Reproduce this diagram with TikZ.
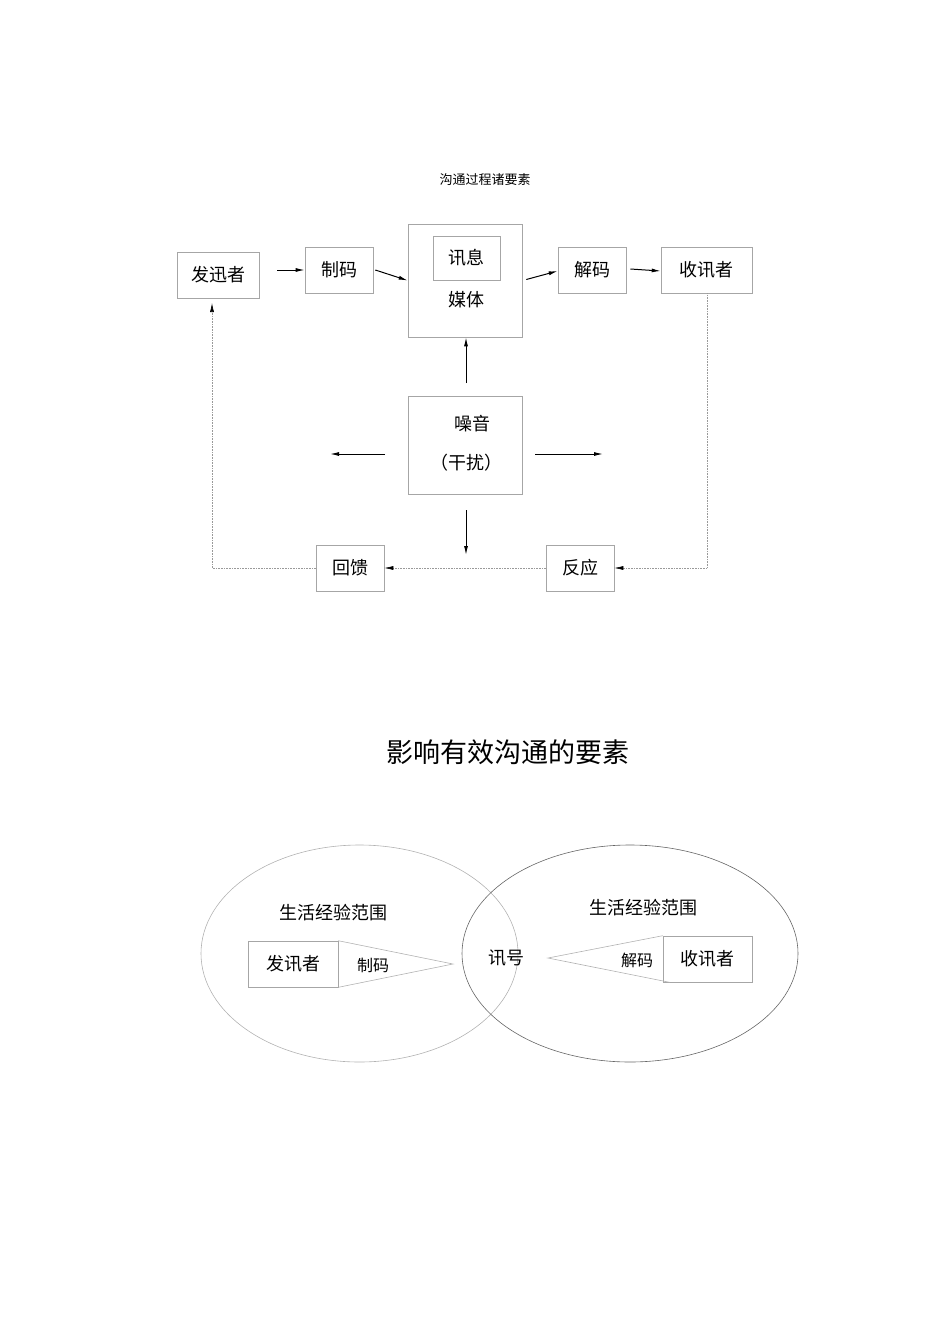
\documentclass[tikz,border=0pt]{standalone}
\usepackage{fontspec}
\newfontfamily\cjk{Noto Sans CJK SC}
\usetikzlibrary{arrows.meta}
\begin{document}
\begin{tikzpicture}[x=1pt,y=-1pt,
  bx/.style={draw=black!35,line width=0.6pt,minimum width=#1,minimum height=46pt,inner sep=0pt,font=\cjk\fontsize{18}{20}\selectfont},
  bx/.default=68pt,
  arr/.style={-{Latex[length=9pt,width=4pt]},line width=1pt},
  dot/.style={densely dotted,draw=black!40,line width=0.6pt,-{Latex[length=9pt,width=4pt,black]}},
  txt/.style={font=\cjk\fontsize{18}{20}\selectfont,inner sep=0pt}]
\useasboundingbox (0,0) rectangle (950,1344);
\node[font=\cjk\fontsize{13}{15}\selectfont] (t1) at (485,180) {沟通过程诸要素};
\node[bx=82pt] (fx) at (218,275) {发迅者};
\node[bx] (zm) at (339,270) {制码};
\node[draw=black!35,line width=0.6pt,minimum width=114pt,minimum height=113pt] (mt) at (465,280.5) {};
\node[bx=67pt,minimum height=44pt] (xx) at (466.5,258) {讯息};
\node[txt] (mtt) at (466,300) {媒体};
\node[bx] (jm) at (592,270) {解码};
\node[bx=91pt] (sx) at (706.5,270) {收讯者};
\node[draw=black!35,line width=0.6pt,minimum width=114pt,minimum height=98pt] (zy) at (465,445) {};
\node[txt] (zyt) at (472,424) {噪音};
\node[txt] (gr) at (466,463) {（干扰）};
\node[bx] (hk) at (350,568) {回馈};
\node[bx] (fy) at (580,568) {反应};
\draw[arr] (fx.east)++(18,-5) coordinate (a1) -- (zm.west);
\draw[arr] (zm.east)++(2,0) -- (mt.west);
\draw[arr] (mt.east)++(4,-1) -- ([yshift=-1pt]jm.west);
\draw[arr] (jm.east)++(4,-1) -- ([yshift=-1pt]sx.west);
\draw[arr] (466,383) coordinate (u1) -- (mt.south -| u1);
\draw[arr] (385,454) coordinate (l1) -- (330,454) coordinate (l2);
\draw[arr] (535,454) coordinate (r1) -- (603,454) coordinate (r2);
\draw[arr] (466,510) coordinate (d1) -- (466,555) coordinate (d2);
\coordinate (c1) at (707,568);
\coordinate (c2) at (212,568);
\draw[dot] (sx.south -| c1) -- (c1) -- (fy.east);
\draw[dot] (fy.west) -- (hk.east);
\draw[dot] (hk.west) -- (c2) -- (212,303);
% second
\node[font=\cjk\fontsize{27}{30}\selectfont] (t2) at (508,752) {影响有效沟通的要素};
\draw[black!30,line width=0.6pt] (359.5,953.5) ellipse[x radius=158.5,y radius=108.5];
\draw[black!60,line width=0.6pt] (630,953.5) ellipse[x radius=168,y radius=108.5];
\node[txt] (s1) at (333,913) {生活经验范围};
\node[txt] (s2) at (643,908) {生活经验范围};
\node[bx=90pt] (fx2) at (293,964) {发讯者};
\coordinate (tp1) at (453,964);
\draw[black!30,line width=0.6pt] (fx2.north east) -- (tp1) -- (fx2.south east);
\node[txt,font=\cjk\fontsize{16}{18}\selectfont] (zm2) at (373,965) {制码};
\node[txt] (xh) at (506,958) {讯号};
\node[bx=89pt] (sx2) at (707.5,959) {收讯者};
\coordinate (tp2) at (548,958);
\draw[black!30,line width=0.6pt] (sx2.north west) -- (tp2) -- ([xshift=7pt]sx2.south west);
\node[txt,font=\cjk\fontsize{16}{18}\selectfont] (jm2) at (637,960) {解码};
\end{tikzpicture}
\end{document}
